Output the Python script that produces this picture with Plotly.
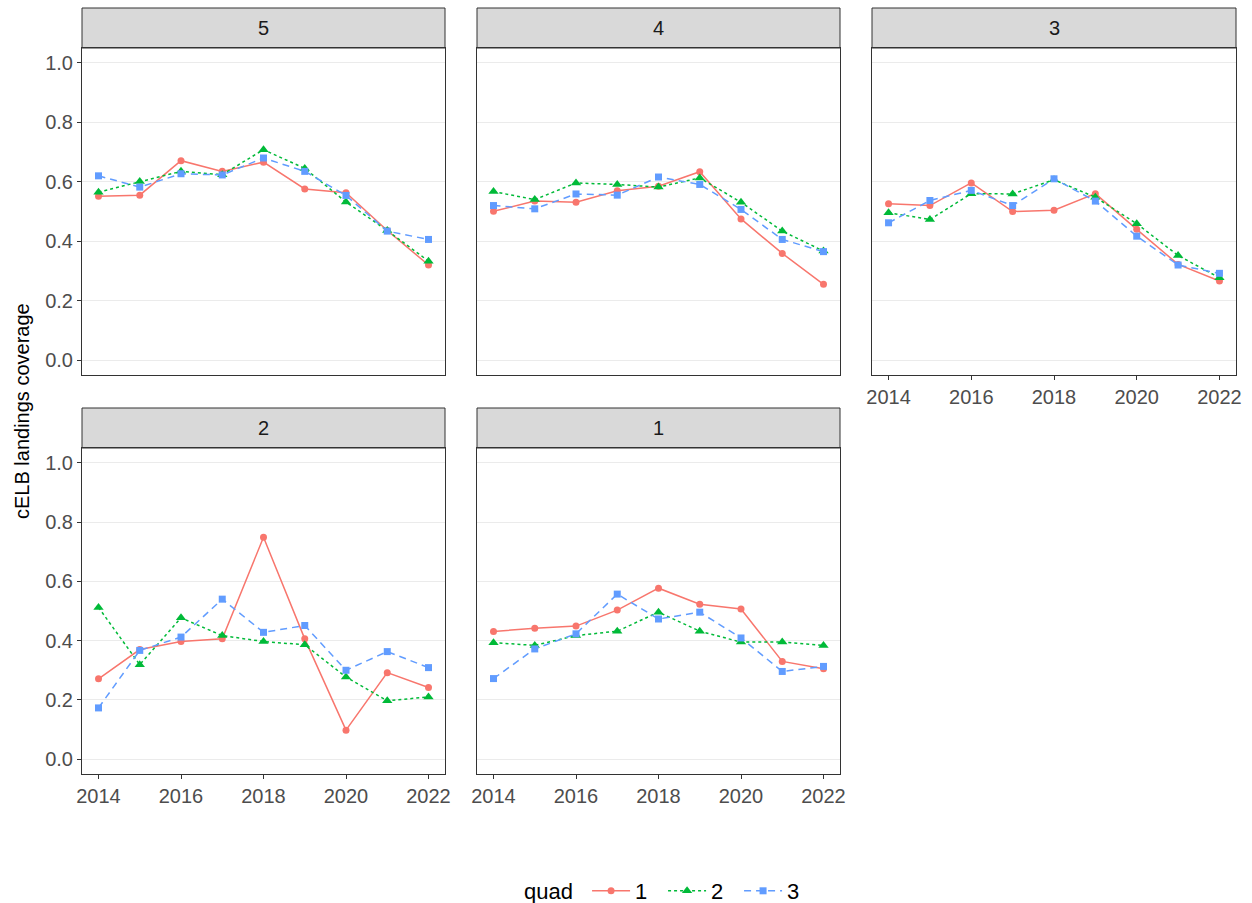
import plotly.graph_objects as go

years = [2014, 2015, 2016, 2017, 2018, 2019, 2020, 2021, 2022]
facets = ["5", "4", "3", "2", "1"]
quads = ["1", "2", "3"]

# values per facet (quad 1, quad 2, quad 3)
f5_q1 = [0.551, 0.555, 0.671, 0.635, 0.666, 0.576, 0.563, 0.436, 0.320]
f5_q2 = [0.565, 0.601, 0.635, 0.624, 0.708, 0.645, 0.532, 0.436, 0.333]
f5_q3 = [0.620, 0.582, 0.627, 0.623, 0.680, 0.635, 0.554, 0.434, 0.406]

f4_q1 = [0.501, 0.535, 0.531, 0.570, 0.585, 0.634, 0.475, 0.359, 0.255]
f4_q2 = [0.567, 0.540, 0.596, 0.591, 0.582, 0.613, 0.531, 0.434, 0.367]
f4_q3 = [0.520, 0.509, 0.559, 0.555, 0.616, 0.591, 0.507, 0.406, 0.365]

f3_q1 = [0.526, 0.520, 0.596, 0.500, 0.504, 0.560, 0.440, 0.322, 0.266]
f3_q2 = [0.496, 0.473, 0.560, 0.559, 0.607, 0.548, 0.459, 0.352, 0.277]
f3_q3 = [0.462, 0.537, 0.571, 0.520, 0.610, 0.535, 0.417, 0.320, 0.292]

f2_q1 = [0.271, 0.370, 0.397, 0.406, 0.749, 0.406, 0.098, 0.292, 0.242]
f2_q2 = [0.512, 0.319, 0.477, 0.417, 0.397, 0.386, 0.277, 0.197, 0.210]
f2_q3 = [0.173, 0.367, 0.412, 0.540, 0.428, 0.451, 0.300, 0.363, 0.309]

f1_q1 = [0.431, 0.442, 0.449, 0.503, 0.577, 0.523, 0.507, 0.330, 0.305]
f1_q2 = [0.393, 0.384, 0.417, 0.432, 0.496, 0.432, 0.395, 0.395, 0.384]
f1_q3 = [0.272, 0.372, 0.423, 0.557, 0.473, 0.496, 0.409, 0.296, 0.313]

facet_data = {
    "5": [f5_q1, f5_q2, f5_q3],
    "4": [f4_q1, f4_q2, f4_q3],
    "3": [f3_q1, f3_q2, f3_q3],
    "2": [f2_q1, f2_q2, f2_q3],
    "1": [f1_q1, f1_q2, f1_q3],
}

x_ticks = [2014, 2016, 2018, 2020, 2022]
y_ticks = [0.0, 0.2, 0.4, 0.6, 0.8, 1.0]

colors = ["#F8766D", "#00BA38", "#619CFF"]
dashes = ["solid", "dot", "7px,5px"]
symbols = ["circle", "triangle-up", "square"]
msizes = [7, 9, 7]

# body margin is removed in the page (post_script), so figure == viewport
W, H = 1252, 903
FONT = "Liberation Sans, Arial, sans-serif"


def px_x(p):
    return p / W


def px_y(p):
    return 1 - p / H


# panel pixel layout (in page coordinates)
cols_px = [(82, 445), (477, 840), (872, 1236)]
rows_px = [(48, 375), (448, 774)]
strip_px = [(8, 48), (408, 448)]

positions = {"5": (0, 0), "4": (0, 1), "3": (0, 2), "2": (1, 0), "1": (1, 1)}

fig = go.Figure()
layout_axes = {}
shapes = []
annotations = []

for i, fac in enumerate(facets):
    r, c = positions[fac]
    n = i + 1
    xa = "x" if n == 1 else f"x{n}"
    ya = "y" if n == 1 else f"y{n}"
    xkey = "xaxis" if n == 1 else f"xaxis{n}"
    ykey = "yaxis" if n == 1 else f"yaxis{n}"
    x0, x1 = px_x(cols_px[c][0]), px_x(cols_px[c][1])
    y0, y1 = px_y(rows_px[r][1]), px_y(rows_px[r][0])

    show_x = (r == 1) or (fac == "3")
    show_y = (c == 0)

    layout_axes[xkey] = dict(
        domain=[x0, x1], anchor=ya, range=[2013.6, 2022.4],
        tickvals=x_ticks, showticklabels=show_x,
        ticks="outside" if show_x else "", ticklen=4, tickwidth=1, tickcolor="#333333",
        showgrid=False, zeroline=False, showline=True, linecolor="#333333", linewidth=1,
        mirror=True, tickfont=dict(family=FONT, size=20, color="#4D4D4D"),
        automargin=False,
    )
    layout_axes[ykey] = dict(
        domain=[y0, y1], anchor=xa, range=[-0.05, 1.05],
        tickvals=y_ticks, tickformat=".1f", showticklabels=show_y,
        ticks="outside" if show_y else "", ticklen=4, tickwidth=1, tickcolor="#333333",
        showgrid=True, gridcolor="#EBEBEB", gridwidth=1,
        zeroline=False, showline=True, linecolor="#333333", linewidth=1,
        mirror=True, tickfont=dict(family=FONT, size=20, color="#4D4D4D"),
        automargin=False,
    )

    for q in range(3):
        fig.add_trace(go.Scatter(
            x=years, y=facet_data[fac][q], xaxis=xa, yaxis=ya,
            mode="lines+markers", name=quads[q], legendgroup=quads[q],
            showlegend=(i == 0),
            line=dict(color=colors[q], width=1.5, dash=dashes[q]),
            marker=dict(color=colors[q], symbol=symbols[q], size=msizes[q],
                        line=dict(width=0)),
        ))

    sy0, sy1 = px_y(strip_px[r][1]), px_y(strip_px[r][0])
    shapes.append(dict(type="rect", xref="paper", yref="paper",
                       x0=x0, x1=x1, y0=sy0, y1=sy1,
                       fillcolor="#D9D9D9", line=dict(color="#333333", width=1),
                       layer="below"))
    annotations.append(dict(text=fac, xref="paper", yref="paper",
                            x=(x0 + x1) / 2, y=(sy0 + sy1) / 2,
                            xanchor="center", yanchor="middle", showarrow=False,
                            font=dict(family=FONT, size=20, color="#1A1A1A")))

annotations.append(dict(text="cELB landings coverage", xref="paper", yref="paper",
                        x=px_x(22), y=px_y(411), textangle=-90,
                        xanchor="center", yanchor="middle", showarrow=False,
                        font=dict(family=FONT, size=20, color="#000000")))

fig.update_layout(
    width=W, height=H,
    margin=dict(l=0, r=0, t=0, b=0, autoexpand=False),
    paper_bgcolor="white", plot_bgcolor="white",
    shapes=shapes, annotations=annotations,
    showlegend=True,
    legend=dict(orientation="h", x=px_x(522), y=px_y(891),
                xanchor="left", yanchor="middle",
                title=dict(text="quad ", side="left",
                           font=dict(family=FONT, size=22, color="#000000")),
                font=dict(family=FONT, size=22, color="#000000"),
                itemwidth=38, entrywidth=23, entrywidthmode="pixels",
                bgcolor="rgba(0,0,0,0)"),
    **layout_axes,
)

fig.write_html(
    "out.html",
    config={"displayModeBar": False},
    post_script="document.body.style.margin='0';document.body.style.overflow='hidden';",
)
